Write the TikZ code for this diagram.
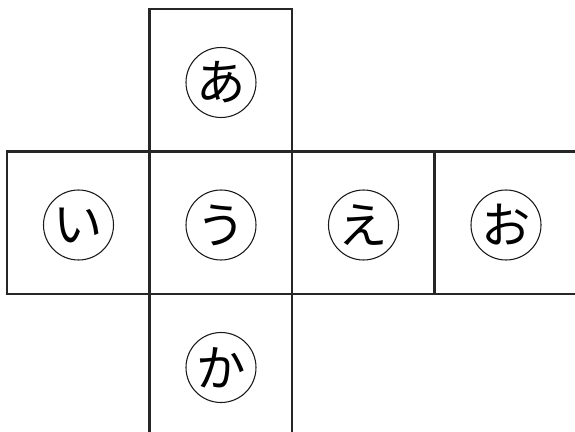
\documentclass[tikz,border=0pt]{standalone}
\usepackage{fontspec}
\newfontfamily\cjk{Noto Sans CJK JP}
\begin{document}
\begin{tikzpicture}[x=0.75pt,y=-0.75pt,
  face/.style={draw=black!85, line width=2pt},
  label/.style={circle, draw=black!90, line width=0.8pt, minimum size=70*0.75pt, inner sep=0pt, font=\cjk\fontsize{37}{37}\selectfont}]
\useasboundingbox (0,0) rectangle (575,432);
\def\s{142.5}
% squares
\draw[face] (149.5,9) rectangle ++(\s,\s);
\draw[face] (7,151.5) rectangle ++(\s,\s);
\draw[face] (149.5,151.5) rectangle ++(\s,\s);
\draw[face] (292,151.5) rectangle ++(\s,\s);
\draw[face] (434.5,151.5) rectangle ++(\s,\s);
\draw[face] (149.5,294) rectangle ++(\s,\s);
% labels
\node[label] (a) at (221,82.5) {あ};
\node[label] (i) at (78.5,225) {い};
\node[label] (u) at (221,225) {う};
\node[label] (e) at (363.5,225) {え};
\node[label] (o) at (506,225) {お};
\node[label] (ka) at (221,367.5) {か};
\end{tikzpicture}
\end{document}
